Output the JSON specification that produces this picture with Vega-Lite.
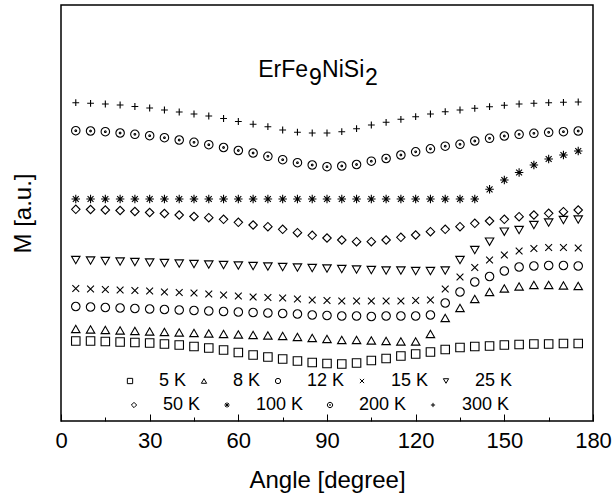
{
  "$schema": "https://vega.github.io/schema/vega-lite/v6.json",
  "width": 532,
  "height": 416,
  "autosize": "none",
  "padding": {"left": 61, "top": 5, "right": 21, "bottom": 80},
  "background": "white",
  "config": {
    "font": "Liberation Sans",
    "view": {"stroke": "black", "strokeWidth": 1.5},
    "legend": {
      "orient": "none",
      "direction": "horizontal",
      "title": null,
      "labelFont": "Liberation Sans",
      "labelFontSize": 18,
      "labelColor": "black",
      "labelOffset": 20,
      "symbolSize": 28,
      "symbolStrokeWidth": 1,
      "symbolStrokeColor": "black",
      "symbolFillColor": "transparent",
      "padding": 0
    }
  },
  "data": {
    "values": [
      {"a": 5, "5 K": 80, "8 K": 92, "12 K": 114.5, "15 K": 132.5, "25 K": 161, "50 K": 211.7, "100 K": 222, "200 K": 290.3, "300 K": 318.3},
      {"a": 10, "5 K": 80, "8 K": 91.5, "12 K": 114, "15 K": 132, "25 K": 160.5, "50 K": 211.5, "100 K": 222, "200 K": 290, "300 K": 317.7},
      {"a": 15, "5 K": 79.5, "8 K": 91, "12 K": 113.5, "15 K": 131.5, "25 K": 160, "50 K": 211, "100 K": 222, "200 K": 289.3, "300 K": 317},
      {"a": 20, "5 K": 79, "8 K": 90.5, "12 K": 113, "15 K": 131, "25 K": 159.5, "50 K": 210.5, "100 K": 222, "200 K": 288, "300 K": 316},
      {"a": 25, "5 K": 78.5, "8 K": 90, "12 K": 112.5, "15 K": 130.5, "25 K": 159, "50 K": 209.5, "100 K": 222, "200 K": 286.7, "300 K": 314.5},
      {"a": 30, "5 K": 78, "8 K": 89.5, "12 K": 112, "15 K": 130, "25 K": 158.5, "50 K": 208.5, "100 K": 222, "200 K": 285.3, "300 K": 313},
      {"a": 35, "5 K": 77, "8 K": 89, "12 K": 111.5, "15 K": 129, "25 K": 158, "50 K": 207.5, "100 K": 222, "200 K": 283.3, "300 K": 311},
      {"a": 40, "5 K": 76, "8 K": 88.5, "12 K": 111, "15 K": 128.5, "25 K": 157.5, "50 K": 206, "100 K": 222, "200 K": 281, "300 K": 309},
      {"a": 45, "5 K": 74.5, "8 K": 88, "12 K": 110.5, "15 K": 128, "25 K": 157, "50 K": 204.5, "100 K": 222, "200 K": 278.7, "300 K": 307},
      {"a": 50, "5 K": 73, "8 K": 87.5, "12 K": 110, "15 K": 127, "25 K": 156.5, "50 K": 203.3, "100 K": 222, "200 K": 276.3, "300 K": 305},
      {"a": 55, "5 K": 71, "8 K": 87, "12 K": 109.5, "15 K": 126, "25 K": 156, "50 K": 201.7, "100 K": 222, "200 K": 273.5, "300 K": 302.5},
      {"a": 60, "5 K": 68.5, "8 K": 86.5, "12 K": 109, "15 K": 125, "25 K": 155.5, "50 K": 198.7, "100 K": 222, "200 K": 270.5, "300 K": 299.5},
      {"a": 65, "5 K": 66, "8 K": 86, "12 K": 108.5, "15 K": 124, "25 K": 155, "50 K": 196, "100 K": 222, "200 K": 268, "300 K": 296.8},
      {"a": 70, "5 K": 64, "8 K": 85.5, "12 K": 108, "15 K": 123.5, "25 K": 154.5, "50 K": 194.3, "100 K": 222, "200 K": 264.7, "300 K": 294.3},
      {"a": 75, "5 K": 62, "8 K": 85, "12 K": 107.5, "15 K": 123, "25 K": 154, "50 K": 191.7, "100 K": 222, "200 K": 261.3, "300 K": 291},
      {"a": 80, "5 K": 60, "8 K": 84, "12 K": 107, "15 K": 122, "25 K": 153.5, "50 K": 188.3, "100 K": 222, "200 K": 258.3, "300 K": 288.8},
      {"a": 85, "5 K": 58.5, "8 K": 83, "12 K": 106, "15 K": 121, "25 K": 153, "50 K": 185.7, "100 K": 222, "200 K": 256, "300 K": 288},
      {"a": 90, "5 K": 57.5, "8 K": 82, "12 K": 105.5, "15 K": 120.5, "25 K": 152.5, "50 K": 183, "100 K": 222, "200 K": 254.3, "300 K": 288},
      {"a": 95, "5 K": 57, "8 K": 81, "12 K": 105, "15 K": 120, "25 K": 152, "50 K": 181, "100 K": 222, "200 K": 255, "300 K": 289.3},
      {"a": 100, "5 K": 58, "8 K": 81, "12 K": 105, "15 K": 120, "25 K": 151.5, "50 K": 179.3, "100 K": 222, "200 K": 256.5, "300 K": 292.3},
      {"a": 105, "5 K": 60.5, "8 K": 80.5, "12 K": 104.5, "15 K": 120, "25 K": 151, "50 K": 179.3, "100 K": 222, "200 K": 259.8, "300 K": 296},
      {"a": 110, "5 K": 62.5, "8 K": 80, "12 K": 105, "15 K": 120, "25 K": 150.5, "50 K": 181, "100 K": 222, "200 K": 262.5, "300 K": 298.7},
      {"a": 115, "5 K": 65, "8 K": 79.5, "12 K": 105, "15 K": 120, "25 K": 150.5, "50 K": 183.7, "100 K": 222, "200 K": 266, "300 K": 301.7},
      {"a": 120, "5 K": 67, "8 K": 79.5, "12 K": 105, "15 K": 120.5, "25 K": 150, "50 K": 186, "100 K": 222, "200 K": 269.2, "300 K": 304.3},
      {"a": 125, "5 K": 69, "8 K": 87, "12 K": 106, "15 K": 121, "25 K": 150, "50 K": 189.3, "100 K": 222, "200 K": 272.2, "300 K": 307},
      {"a": 130, "5 K": 71.5, "8 K": 103, "12 K": 118, "15 K": 132, "25 K": 150.5, "50 K": 191.7, "100 K": 222, "200 K": 274.8, "300 K": 309.3},
      {"a": 135, "5 K": 73.5, "8 K": 113, "12 K": 129, "15 K": 144, "25 K": 161, "50 K": 194.3, "100 K": 222, "200 K": 276.7, "300 K": 311},
      {"a": 140, "5 K": 74.5, "8 K": 122, "12 K": 139, "15 K": 153.5, "25 K": 171, "50 K": 197.7, "100 K": 222, "200 K": 280, "300 K": 312.7},
      {"a": 145, "5 K": 75, "8 K": 129, "12 K": 144.5, "15 K": 161, "25 K": 179.3, "50 K": 200, "100 K": 231.7, "200 K": 282.7, "300 K": 314.3},
      {"a": 150, "5 K": 76, "8 K": 132.5, "12 K": 150, "15 K": 166, "25 K": 189.3, "50 K": 201.7, "100 K": 241, "200 K": 285, "300 K": 315.7},
      {"a": 155, "5 K": 76.5, "8 K": 134.5, "12 K": 154, "15 K": 170, "25 K": 191, "50 K": 204.3, "100 K": 248.5, "200 K": 286.7, "300 K": 317},
      {"a": 160, "5 K": 77, "8 K": 136, "12 K": 155, "15 K": 172.5, "25 K": 196, "50 K": 206, "100 K": 256, "200 K": 287.7, "300 K": 317.7},
      {"a": 165, "5 K": 77, "8 K": 136, "12 K": 155.5, "15 K": 173.5, "25 K": 198.5, "50 K": 207.7, "100 K": 262, "200 K": 288.7, "300 K": 318.3},
      {"a": 170, "5 K": 77.5, "8 K": 135.5, "12 K": 155.5, "15 K": 173.5, "25 K": 201, "50 K": 209.3, "100 K": 266, "200 K": 289.3, "300 K": 318.7},
      {"a": 175, "5 K": 77.5, "8 K": 135, "12 K": 155, "15 K": 173, "25 K": 201.5, "50 K": 211, "100 K": 270, "200 K": 290, "300 K": 319}
    ]
  },
  "transform": [
    {"fold": ["5 K", "8 K", "12 K", "15 K", "25 K", "50 K", "100 K", "200 K", "300 K"], "as": ["T", "M"]}
  ],
  "layer": [
    {
      "transform": [{"filter": {"field": "T", "oneOf": ["5 K", "8 K", "12 K", "15 K", "25 K"]}}],
      "mark": {"type": "point", "filled": false, "stroke": "black", "strokeWidth": 1.1, "size": 72, "opacity": 1},
      "encoding": {
        "x": {
          "field": "a", "type": "quantitative",
          "scale": {"domain": [0, 180], "nice": false, "zero": false},
          "axis": {
            "values": [0, 15, 30, 45, 60, 75, 90, 105, 120, 135, 150, 165, 180],
            "labelExpr": "datum.value % 30 === 0 ? datum.label : ''",
            "tickSize": {"condition": {"test": "datum.value % 30 === 0", "value": -7}, "value": -4},
            "tickColor": "black",
            "tickWidth": 1,
            "domain": false,
            "grid": false,
            "labelFont": "Liberation Sans",
            "labelFontSize": 22,
            "labelColor": "black",
            "labelPadding": 16,
            "labelFlush": false,
            "labelOverlap": false,
            "title": "Angle [degree]",
            "titleFont": "Liberation Sans",
            "titleFontSize": 24,
            "titleFontWeight": "normal",
            "titleColor": "black",
            "titlePadding": 14
          }
        },
        "y": {
          "field": "M", "type": "quantitative",
          "scale": {"domain": [0, 416], "nice": false, "zero": false},
          "axis": {
            "ticks": false, "labels": false, "domain": false, "grid": false,
            "title": "M [a.u.]",
            "titleFont": "Liberation Sans",
            "titleFontSize": 24,
            "titleFontWeight": "normal",
            "titleColor": "black",
            "titlePadding": 26
          }
        },
        "shape": {
          "field": "T", "type": "nominal",
          "scale": {
            "domain": ["5 K", "8 K", "12 K", "15 K", "25 K"],
            "range": ["square", "triangle-up", "circle", "M-0.8,-0.8L0.8,0.8M-0.8,0.8L0.8,-0.8", "triangle-down"]
          },
          "legend": {"legendX": 60, "legendY": 367, "columnPadding": 8}
        }
      }
    },
    {
      "transform": [{"filter": {"field": "T", "oneOf": ["50 K", "100 K", "200 K", "300 K"]}}],
      "mark": {"type": "point", "filled": false, "stroke": "black", "strokeWidth": 1.1, "size": 72, "opacity": 1},
      "encoding": {
        "x": {"field": "a", "type": "quantitative"},
        "y": {"field": "M", "type": "quantitative"},
        "shape": {
          "field": "T", "type": "nominal",
          "scale": {
            "domain": ["50 K", "100 K", "200 K", "300 K"],
            "range": [
              "diamond",
              "M-1,0L1,0M0,-1L0,1M-0.7,-0.7L0.7,0.7M-0.7,0.7L0.7,-0.7",
              "M1,0A1,1,0,1,1,-1,0A1,1,0,1,1,1,0Z M0.2,0A0.2,0.2,0,1,1,-0.2,0A0.2,0.2,0,1,1,0.2,0Z",
              "M-0.8,0L0.8,0M0,-0.8L0,0.8"
            ]
          },
          "legend": {"legendX": 64, "legendY": 391, "columnPadding": 17}
        }
      }
    },
    {
      "data": {"values": [{}]},
      "mark": {"type": "text", "align": "right", "baseline": "alphabetic", "font": "Liberation Sans", "fontSize": 23, "color": "black"},
      "encoding": {
        "x": {"datum": 83.6, "type": "quantitative"},
        "y": {"datum": 344, "type": "quantitative"},
        "text": {"value": "ErFe"}
      }
    },
    {
      "data": {"values": [{}]},
      "mark": {"type": "text", "align": "left", "baseline": "alphabetic", "font": "Liberation Sans", "fontSize": 23, "color": "black", "dx": 1, "dy": 8},
      "encoding": {
        "x": {"datum": 83.6, "type": "quantitative"},
        "y": {"datum": 344, "type": "quantitative"},
        "text": {"value": "9"}
      }
    },
    {
      "data": {"values": [{}]},
      "mark": {"type": "text", "align": "left", "baseline": "alphabetic", "font": "Liberation Sans", "fontSize": 23, "color": "black", "dx": 14},
      "encoding": {
        "x": {"datum": 83.6, "type": "quantitative"},
        "y": {"datum": 344, "type": "quantitative"},
        "text": {"value": "NiSi"}
      }
    },
    {
      "data": {"values": [{}]},
      "mark": {"type": "text", "align": "left", "baseline": "alphabetic", "font": "Liberation Sans", "fontSize": 23, "color": "black", "dx": 57, "dy": 8},
      "encoding": {
        "x": {"datum": 83.6, "type": "quantitative"},
        "y": {"datum": 344, "type": "quantitative"},
        "text": {"value": "2"}
      }
    }
  ],
  "resolve": {"scale": {"shape": "independent"}}
}
